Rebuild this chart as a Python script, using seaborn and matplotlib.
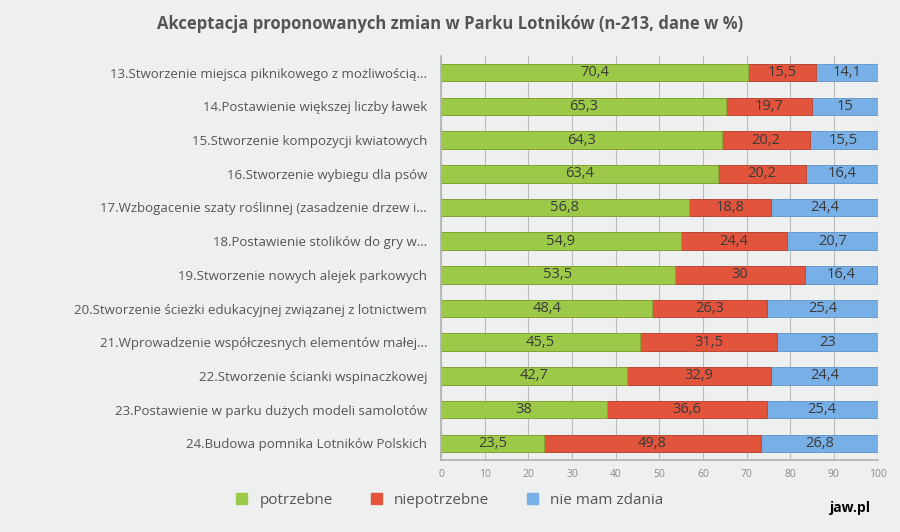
import numpy as np
import pandas as pd
import seaborn as sns
import matplotlib.pyplot as plt
from matplotlib.patches import Patch

# dane z wykresu
kategorie = [
    "13.Stworzenie miejsca piknikowego z możliwością...",
    "14.Postawienie większej liczby ławek",
    "15.Stworzenie kompozycji kwiatowych",
    "16.Stworzenie wybiegu dla psów",
    "17.Wzbogacenie szaty roślinnej (zasadzenie drzew i...",
    "18.Postawienie stolików do gry w...",
    "19.Stworzenie nowych alejek parkowych",
    "20.Stworzenie ścieżki edukacyjnej związanej z lotnictwem",
    "21.Wprowadzenie współczesnych elementów małej...",
    "22.Stworzenie ścianki wspinaczkowej",
    "23.Postawienie w parku dużych modeli samolotów",
    "24.Budowa pomnika Lotników Polskich",
]
potrzebne = [70.4, 65.3, 64.3, 63.4, 56.8, 54.9, 53.5, 48.4, 45.5, 42.7, 38, 23.5]
niepotrzebne = [15.5, 19.7, 20.2, 20.2, 18.8, 24.4, 30, 26.3, 31.5, 32.9, 36.6, 49.8]
nie_mam_zdania = [14.1, 15, 15.5, 16.4, 24.4, 20.7, 16.4, 25.4, 23, 24.4, 25.4, 26.8]

df = pd.DataFrame({"kat": kategorie, "p": potrzebne, "n": niepotrzebne, "z": nie_mam_zdania})
df["pn"] = df["p"] + df["n"]
df["suma"] = df["pn"] + df["z"]

zielony = "#9cc947"
czerwony = "#e2553c"
niebieski = "#78afe6"
tlo = "#eef0f0"

sns.set_theme(style="white")
plt.rcParams["font.family"] = ["Open Sans", "DejaVu Sans"]

fig, ax = plt.subplots(figsize=(9, 5.32), dpi=100)
fig.patch.set_facecolor(tlo)
ax.set_facecolor(tlo)

w = 0.52
sns.barplot(data=df, y="kat", x="suma", color=niebieski, width=w, ax=ax,
            saturation=1, edgecolor="#5f93c8", linewidth=0.6)
sns.barplot(data=df, y="kat", x="pn", color=czerwony, width=w, ax=ax,
            saturation=1, edgecolor="#c0422c", linewidth=0.6)
sns.barplot(data=df, y="kat", x="p", color=zielony, width=w, ax=ax,
            saturation=1, edgecolor="#7fa835", linewidth=0.6)

# etykiety wartości
for i, row in df.iterrows():
    for start, val in [(0, row["p"]), (row["p"], row["n"]), (row["pn"], row["z"])]:
        txt = f"{val:g}".replace(".", ",")
        ax.text(start + val / 2, i, txt, ha="center", va="center",
                fontsize=10.5, color="#3a3a3a")

ax.set_xlim(0, 100)
ax.set_xticks(np.arange(0, 101, 10))
ax.xaxis.grid(True, color="#b8bcbc", linewidth=0.8)
ax.set_axisbelow(True)
ax.tick_params(axis="x", labelsize=7.5, colors="#8a8a8a", length=0, pad=6)
ax.tick_params(axis="y", labelsize=9.5, colors="#555555", length=0, pad=10)
ax.set_xlabel("")
ax.set_ylabel("")
for s in ["top", "right"]:
    ax.spines[s].set_visible(False)
ax.spines["left"].set_color("#b0b4b4")
ax.spines["bottom"].set_color("#b0b4b4")

fig.subplots_adjust(left=0.49, right=0.975, top=0.895, bottom=0.135)

fig.text(0.5, 0.955, "Akceptacja proponowanych zmian w Parku Lotników (n-213, dane w %)",
         ha="center", va="center", fontsize=12, fontweight="bold", color="#555555")

uchwyty = [Patch(color=zielony, label="potrzebne"),
           Patch(color=czerwony, label="niepotrzebne"),
           Patch(color=niebieski, label="nie mam zdania")]
fig.legend(handles=uchwyty, loc="center", bbox_to_anchor=(0.5, 0.06), ncol=3,
           frameon=False, fontsize=11, labelcolor="#555555", handlelength=0.7,
           handleheight=0.7, columnspacing=2.5)

fig.text(0.945, 0.045, "jaw.pl", ha="center", va="center", fontsize=10,
         fontweight="bold", color="black")

fig.savefig("out.png", dpi=100, facecolor=tlo)
